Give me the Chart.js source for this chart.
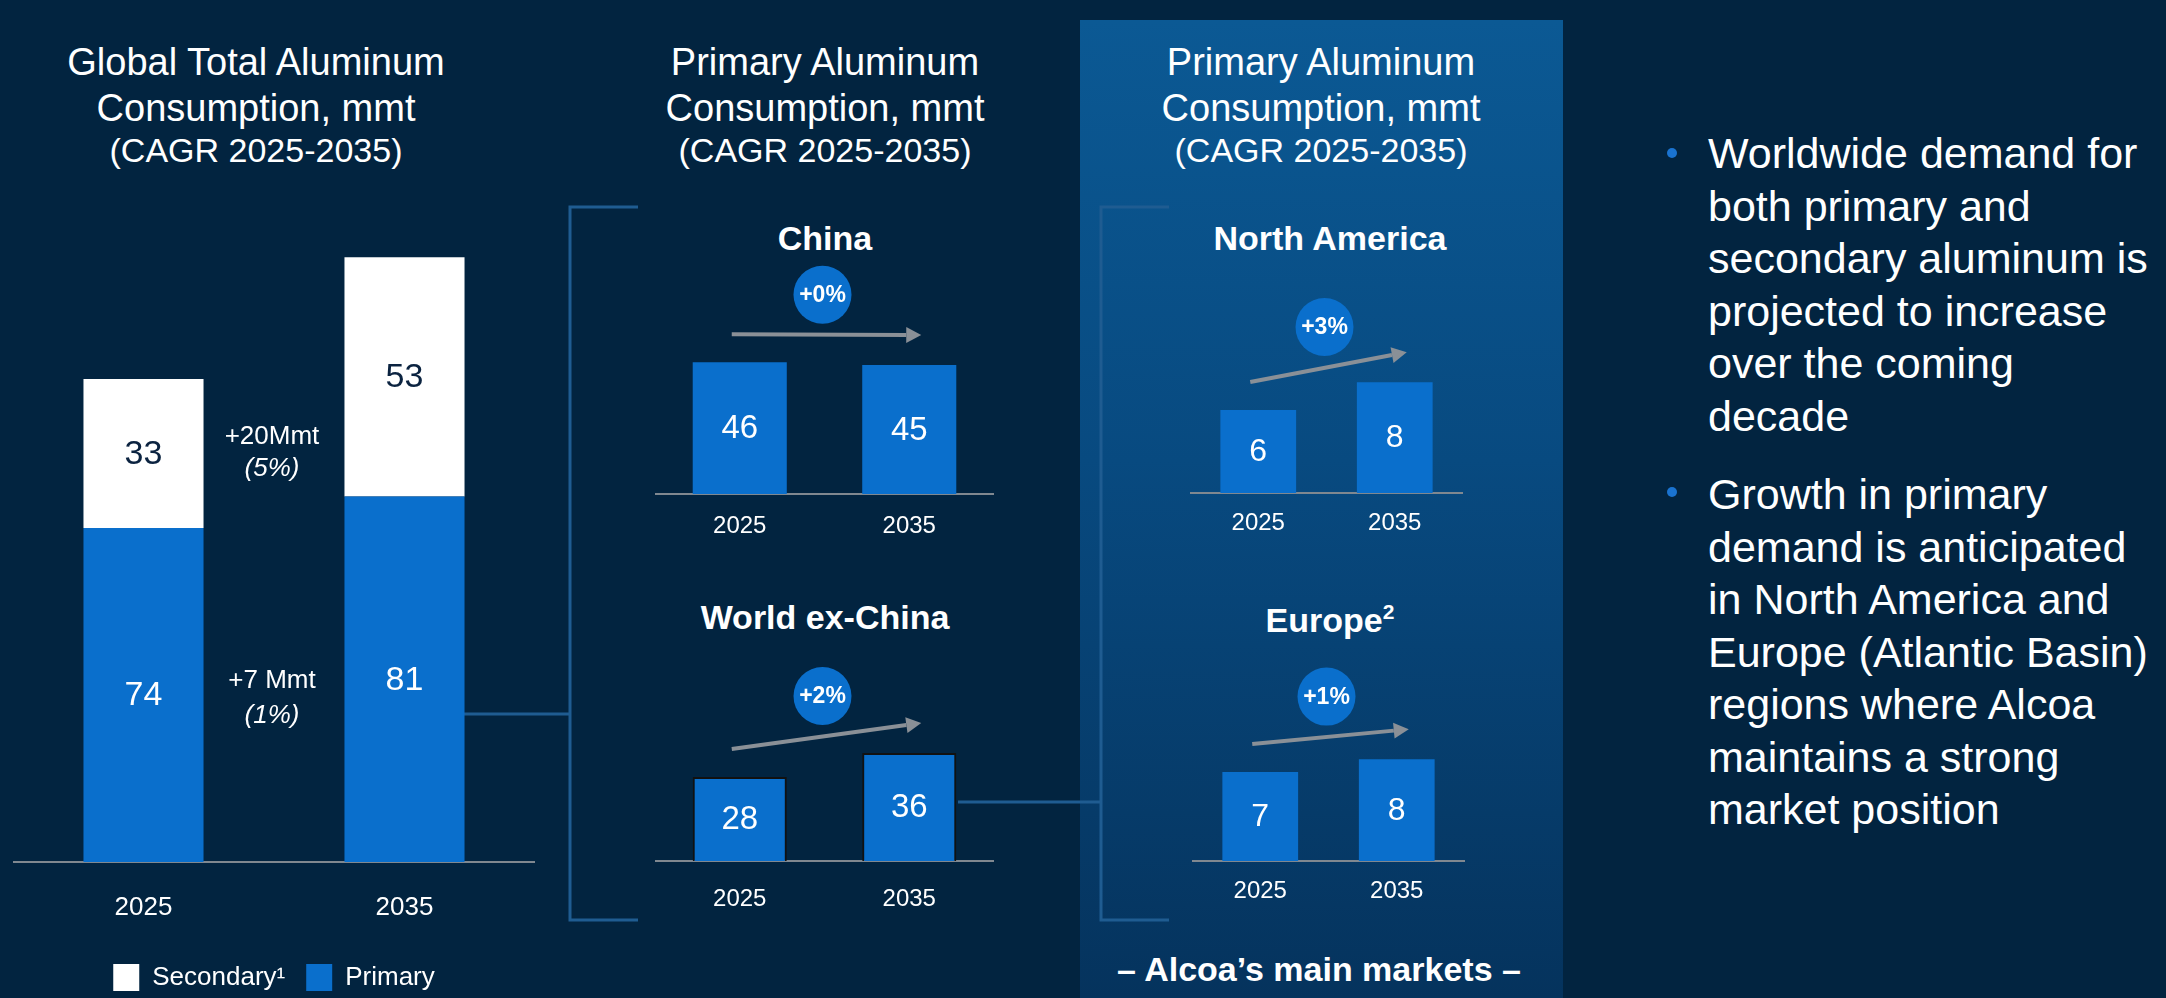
<!DOCTYPE html>
<html>
<head>
<meta charset="utf-8">
<script src="https://cdn.jsdelivr.net/npm/chart.js"></script>
<style>
  html, body { margin: 0; padding: 0; }
  body {
    width: 2166px; height: 998px; overflow: hidden; position: relative;
    background: #022440; color: #fff;
    font-family: 'Liberation Sans', Arial, sans-serif;
  }
  .panel {
    position: absolute; left: 1080px; top: 20px; width: 483px; height: 978px;
    background: linear-gradient(to bottom, #0b5994 0%, #084a80 45%, #05335d 100%);
  }
  canvas { position: absolute; }
  svg { position: absolute; left: 0; top: 0; }
  .t { position: absolute; transform: translate(-50%, -50%); white-space: nowrap; line-height: 1; }
  .h1 { font-size: 38px; }
  .h2 { font-size: 34px; }
  .sub { font-size: 34px; font-weight: bold; }
  .note { font-size: 26px; }
  .bul { position: absolute; left: 1708px; font-size: 43px; line-height: 52.5px; white-space: nowrap; }
  .dot { position: absolute; width: 10px; height: 10px; border-radius: 50%; background: #1a73d0; }
</style>
</head>
<body>
<div class="panel"></div>

<svg width="2166" height="998">
  <g fill="none" stroke="#1f5c91" stroke-width="3">
    <path d="M464,714 H570 M638,207 H570 V920 H638" />
    <path d="M958,802 H1101 M1169,207 H1101 V920 H1169" />
  </g>
</svg>

<canvas id="global" width="522" height="816" style="left:13px; top:185px"></canvas>
<canvas id="china" width="339" height="292" style="left:655px; top:262px"></canvas>
<canvas id="world" width="339" height="263" style="left:655px; top:658px"></canvas>
<canvas id="na" width="273" height="263" style="left:1190px; top:290px"></canvas>
<canvas id="europe" width="273" height="261" style="left:1192px; top:660px"></canvas>

<div class="t h1" style="left:256px; top:62px">Global Total Aluminum</div>
<div class="t h1" style="left:256px; top:108px">Consumption, mmt</div>
<div class="t h2" style="left:256px; top:150px">(CAGR 2025-2035)</div>

<div class="t h1" style="left:825px; top:62px">Primary Aluminum</div>
<div class="t h1" style="left:825px; top:108px">Consumption, mmt</div>
<div class="t h2" style="left:825px; top:150px">(CAGR 2025-2035)</div>

<div class="t h1" style="left:1321px; top:62px">Primary Aluminum</div>
<div class="t h1" style="left:1321px; top:108px">Consumption, mmt</div>
<div class="t h2" style="left:1321px; top:150px">(CAGR 2025-2035)</div>

<div class="t sub" style="left:825px; top:238px">China</div>
<div class="t sub" style="left:825px; top:617px">World ex-China</div>
<div class="t sub" style="left:1330px; top:238px">North America</div>
<div class="t sub" style="left:1330px; top:619px">Europe<sup style="font-size:21px">2</sup></div>

<div id="notes"></div>

<div class="t sub" style="left:1319px; top:969px">– Alcoa’s main markets –</div>

<div class="dot" style="left:1667px; top:148px"></div>
<div class="bul" style="top:127px">Worldwide demand for<br>both primary and<br>secondary aluminum is<br>projected to increase<br>over the coming<br>decade</div>
<div class="dot" style="left:1667px; top:487px"></div>
<div class="bul" style="top:468px">Growth in primary<br>demand is anticipated<br>in North America and<br>Europe (Atlantic Basin)<br>regions where Alcoa<br>maintains a strong<br>market position</div>

<script>
  // values, mmt
  const years = ["2025", "2035"];
  const globalPrimary = [74, 81];
  const globalSecondary = [33, 53];
  const chinaPrimary = [46, 45];
  const worldExChinaPrimary = [28, 36];
  const northAmericaPrimary = [6, 8];
  const europePrimary = [7, 8];
  const cagrChina = "+0%";
  const cagrWorldExChina = "+2%";
  const cagrNorthAmerica = "+3%";
  const cagrEurope = "+1%";
  const primaryChange = ["+7 Mmt", "(1%)"];
  const secondaryChange = ["+20Mmt", "(5%)"];

  const BLUE = "#0a6fcc";
  const GRAY = "#808890";
  const FONT = "'Liberation Sans', Arial, sans-serif";
  Chart.defaults.font.family = FONT;

  // change notes between the two global bars
  const notes = document.getElementById("notes");
  [[secondaryChange, 435, 467], [primaryChange, 679, 714]].forEach(([txt, y1, y2]) => {
    notes.innerHTML +=
      '<div class="t note" style="left:272px; top:' + y1 + 'px">' + txt[0] + "</div>" +
      '<div class="t note" style="left:272px; top:' + y2 + 'px; font-style:italic">' + txt[1] + "</div>";
  });

  const valueLabels = {
    id: "valueLabels",
    afterDatasetsDraw(chart, args, opts) {
      const ctx = chart.ctx;
      ctx.save();
      ctx.font = opts.size + "px " + FONT;
      ctx.textAlign = "center";
      ctx.textBaseline = "middle";
      chart.data.datasets.forEach((ds, i) => {
        chart.getDatasetMeta(i).data.forEach((bar, j) => {
          ctx.fillStyle = ds.labelColor || "#fff";
          ctx.fillText(ds.data[j], bar.x, (bar.y + bar.base) / 2 + 1);
        });
      });
      ctx.restore();
    },
  };

  // grey trend arrow over the two bars plus the CAGR bubble
  const growthArrow = {
    id: "growthArrow",
    afterDatasetsDraw(chart, args, opts) {
      const bars = chart.getDatasetMeta(0).data;
      const a = bars[0], b = bars[1];
      const x1 = a.x - 8, y1 = a.y - 28, x2 = b.x + 12, y2 = b.y - 30;
      const ang = Math.atan2(y2 - y1, x2 - x1);
      const head = 15, hw = 8;
      const hx = x2 - head * Math.cos(ang), hy = y2 - head * Math.sin(ang);
      const ctx = chart.ctx;
      ctx.save();
      ctx.strokeStyle = ctx.fillStyle = "#8a9097";
      ctx.lineWidth = 4;
      ctx.beginPath();
      ctx.moveTo(x1, y1);
      ctx.lineTo(hx, hy);
      ctx.stroke();
      ctx.beginPath();
      ctx.moveTo(x2, y2);
      ctx.lineTo(hx + hw * Math.sin(ang), hy - hw * Math.cos(ang));
      ctx.lineTo(hx - hw * Math.sin(ang), hy + hw * Math.cos(ang));
      ctx.closePath();
      ctx.fill();

      const cx = (chart.chartArea.left + chart.chartArea.right) / 2 - 2;
      const cy = (y1 + y2) / 2 - 40;
      ctx.beginPath();
      ctx.arc(cx, cy, 29, 0, Math.PI * 2);
      ctx.fillStyle = BLUE;
      ctx.fill();
      ctx.fillStyle = "#fff";
      ctx.font = "bold 23px " + FONT;
      ctx.textAlign = "center";
      ctx.textBaseline = "middle";
      ctx.fillText(opts.text, cx, cy + 1);
      ctx.restore();
    },
  };

  new Chart(document.getElementById("global"), {
    type: "bar",
    data: {
      labels: years,
      datasets: [
        { label: "Primary", data: globalPrimary, backgroundColor: BLUE, labelColor: "#fff" },
        { label: "Secondary¹", data: globalSecondary, backgroundColor: "#fff", labelColor: "#0b2340" },
      ],
    },
    options: {
      responsive: false,
      animation: false,
      layout: { padding: 0 },
      datasets: { bar: { categoryPercentage: 1, barPercentage: 0.46 } },
      scales: {
        x: {
          stacked: true,
          grid: { display: false, drawTicks: false },
          border: { color: GRAY, width: 2 },
          ticks: { color: "#fff", font: { size: 26 }, padding: 30 },
          afterFit: (s) => { s.height = 81; },
        },
        y: { stacked: true, display: false, min: 0, max: 150 },
      },
      plugins: {
        legend: {
          position: "bottom",
          reverse: true,
          labels: { color: "#fff", font: { size: 26 }, boxWidth: 26, boxHeight: 27, padding: 21 },
        },
        tooltip: { enabled: false },
        valueLabels: { size: 34 },
      },
    },
    plugins: [valueLabels],
  });

  function regionChart(id, values, cagr, yMax, tickPad, valueSize, outline) {
    new Chart(document.getElementById(id), {
      type: "bar",
      data: {
        labels: years,
        datasets: [{
          data: values,
          backgroundColor: BLUE,
          borderColor: outline ? "#111" : BLUE,
          borderWidth: outline ? 2 : 0,
        }],
      },
      options: {
        responsive: false,
        animation: false,
        layout: { padding: 0 },
        datasets: { bar: { categoryPercentage: 1, barPercentage: 0.555 } },
        scales: {
          x: {
            grid: { display: false, drawTicks: false },
            border: { color: GRAY, width: 2 },
            ticks: { color: "#fff", font: { size: 24 }, padding: tickPad },
            afterFit: (s) => { s.height = 60; },
          },
          y: { display: false, min: 0, max: yMax },
        },
        plugins: {
          legend: { display: false },
          tooltip: { enabled: false },
          valueLabels: { size: valueSize },
          growthArrow: { text: cagr },
        },
      },
      plugins: [valueLabels, growthArrow],
    });
  }

  regionChart("china", chinaPrimary, cagrChina, 81, 18, 33, false);
  regionChart("world", worldExChinaPrimary, cagrWorldExChina, 67.7, 24, 33, true);
  regionChart("na", northAmericaPrimary, cagrNorthAmerica, 14.66, 16, 32, false);
  regionChart("europe", europePrimary, cagrEurope, 15.8, 16, 32, false);
</script>
</body>
</html>
